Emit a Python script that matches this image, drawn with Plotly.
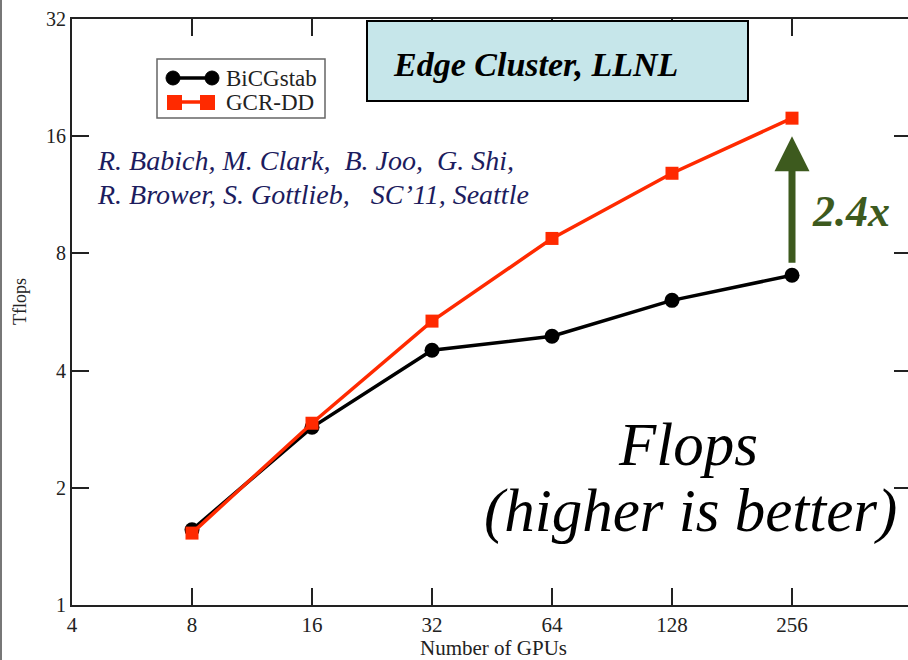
import math
import plotly.graph_objects as go

# GPU counts and sustained performance (Tflops)
gpus = [8, 16, 32, 64, 128, 256]
bicgstab = [1.56, 2.86, 4.51, 4.90, 6.06, 7.03]
gcr_dd = [1.53, 2.93, 5.36, 8.74, 12.85, 17.8]

x_ticks = [4, 8, 16, 32, 64, 128, 256]
y_ticks = [1, 2, 4, 8, 16, 32]

W, H = 908, 660
L, R, T, B = 72, 0, 19, 55
PW, PH = W - L - R, H - T - B


def px(x):
    return (x - L) / PW


def py(y):
    return (H - B - y) / PH


SERIF = "Liberation Serif"
AXIS = "#222"
BLACK = "black"
RED = "#ff2a00"
GREEN = "#3d5a1e"
NAVY = "#1c1c5e"

fig = go.Figure()
fig.add_trace(go.Scatter(
    x=gpus, y=bicgstab, name="BiCGstab", mode="lines+markers",
    line=dict(color=BLACK, width=3.5),
    marker=dict(symbol="circle", size=15, color=BLACK),
))
fig.add_trace(go.Scatter(
    x=gpus, y=gcr_dd, name="GCR-DD", mode="lines+markers",
    line=dict(color=RED, width=3.5),
    marker=dict(symbol="square", size=13, color=RED),
))
# carries the right-hand tick axis
fig.add_trace(go.Scatter(
    x=gpus, y=bicgstab, yaxis="y2", mode="lines", opacity=0,
    showlegend=False, hoverinfo="skip",
))

x_max = 2 ** (2 + PW / 120)
y_range = [0, math.log10(32)]

fig.update_layout(
    width=W, height=H,
    margin=dict(l=L, r=R, t=T, b=B),
    paper_bgcolor="white", plot_bgcolor="white",
    font=dict(family=SERIF, color=AXIS),
    showlegend=False,
    xaxis=dict(
        type="log", range=[math.log10(4), math.log10(x_max)],
        tickvals=x_ticks, ticktext=[str(v) for v in x_ticks],
        ticks="inside", ticklen=17, tickwidth=2, tickcolor=AXIS,
        showline=True, linewidth=2, linecolor=AXIS, mirror="ticks",
        showgrid=False, zeroline=False,
        tickfont=dict(size=21, family=SERIF, color=AXIS),
    ),
    yaxis=dict(
        type="log", range=y_range,
        tickvals=y_ticks, ticktext=[str(v) for v in y_ticks],
        ticks="inside", ticklen=17, tickwidth=2, tickcolor=AXIS,
        showline=True, linewidth=2, linecolor=AXIS,
        showgrid=False, zeroline=False,
        tickfont=dict(size=20, family=SERIF, color=AXIS),
    ),
    yaxis2=dict(
        type="log", range=y_range, overlaying="y", side="right", anchor="x",
        tickvals=y_ticks, ticks="inside", ticklen=14, tickwidth=2, tickcolor=AXIS,
        showticklabels=False, showline=False, showgrid=False, zeroline=False,
    ),
)


def paper_rect(x0, y0, x1, y1, **kw):
    return dict(type="rect", xref="paper", yref="paper",
                x0=px(x0), x1=px(x1), y0=py(y1), y1=py(y0), **kw)


def paper_line(x0, y0, x1, y1, **kw):
    return dict(type="line", xref="paper", yref="paper",
                x0=px(x0), x1=px(x1), y0=py(y0), y1=py(y1), **kw)


shapes = [
    # title box
    paper_rect(367, 21, 748, 101, fillcolor="#c6e6ea",
               line=dict(color="black", width=2), layer="above"),
    # left page border
    paper_line(1, 0, 1, H, line=dict(color="#777", width=2)),
    # legend frame
    paper_rect(157, 59, 325, 118, fillcolor="white",
               line=dict(color="#666", width=1.5), layer="above"),
    # legend swatch: BiCGstab
    paper_line(173, 78, 212, 78, line=dict(color=BLACK, width=3.5), layer="above"),
    dict(type="circle", xref="paper", yref="paper", layer="above",
         x0=px(166), x1=px(180), y0=py(85), y1=py(71),
         fillcolor=BLACK, line=dict(color=BLACK, width=1)),
    dict(type="circle", xref="paper", yref="paper", layer="above",
         x0=px(205), x1=px(219), y0=py(85), y1=py(71),
         fillcolor=BLACK, line=dict(color=BLACK, width=1)),
    # legend swatch: GCR-DD
    paper_line(175, 102, 208, 102, line=dict(color=RED, width=3.5), layer="above"),
    paper_rect(167, 95, 182, 110, fillcolor=RED, line=dict(color=RED, width=0), layer="above"),
    paper_rect(200, 95, 215, 110, fillcolor=RED, line=dict(color=RED, width=0), layer="above"),
]
fig.update_layout(shapes=shapes)


def label(text, x, y, size, color, xanchor="left", angle=0):
    return dict(text=text, xref="paper", yref="paper", x=px(x), y=py(y),
                xanchor=xanchor, yanchor="middle", showarrow=False, textangle=angle,
                font=dict(size=size, family=SERIF, color=color))


annotations = [
    label("BiCGstab", 224, 78, 23, AXIS),
    label("GCR-DD", 224, 102, 23, AXIS),
    label("Number of GPUs", 493, 648, 21, AXIS, xanchor="center"),
    label("Tflops", 20, 302, 18, AXIS, xanchor="center", angle=-90),
    label("<b><i>Edge Cluster, LLNL</i></b>", 391, 65, 34, "black"),
    label("<i>R. Babich, M. Clark,  B. Joo,  G. Shi,</i>", 95, 160, 28, NAVY),
    label("<i>R. Brower, S. Gottlieb,   SC’11, Seattle</i>", 95, 194, 28, NAVY),
    label("<b><i>2.4x</i></b>", 851, 211, 44, GREEN, xanchor="center"),
    label("<i>Flops</i>", 688, 445, 61, "black", xanchor="center"),
    label("<i>(higher is better)</i>", 690, 511, 61, "black", xanchor="center"),
    # improvement arrow at 256 GPUs
    dict(x=math.log10(gpus[-1]), y=math.log10(16.0), xref="x", yref="y",
         ax=math.log10(gpus[-1]), ay=math.log10(7.5), axref="x", ayref="y",
         showarrow=True, arrowhead=2, arrowsize=1.0, arrowwidth=7,
         arrowcolor=GREEN, text=""),
]
fig.update_layout(annotations=annotations)

fig.write_html("out.html")
